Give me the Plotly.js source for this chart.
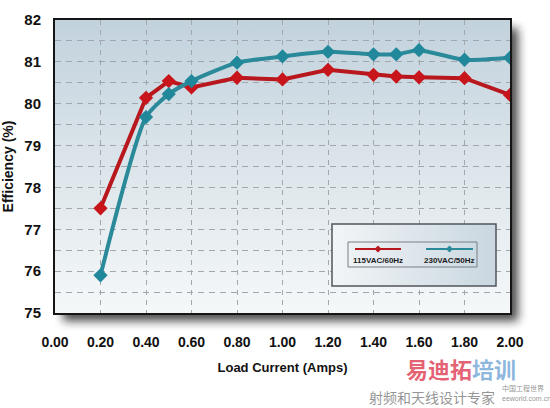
<!DOCTYPE html>
<html><head><meta charset="utf-8">
<script src="https://cdn.plot.ly/plotly-3.0.1.min.js"></script>
<style>html,body{margin:0;padding:0;background:#fff}</style>
</head><body><div id="chart" style="width:550px;height:408px"></div>
<script>
// ---- data ----
const loadCurrent = [0.2, 0.4, 0.5, 0.6, 0.8, 1.0, 1.2, 1.4, 1.5, 1.6, 1.8, 2.0];
const eff115 = [77.50, 80.14, 80.54, 80.39, 80.62, 80.58, 80.81, 80.69, 80.65, 80.63, 80.61, 80.21];
const eff230 = [75.90, 79.68, 80.23, 80.54, 80.98, 81.13, 81.24, 81.18, 81.18, 81.28, 81.05, 81.10];
const seriesNames = ['115VAC/60Hz', '230VAC/50Hz'];
const xTickVals = [0, 0.2, 0.4, 0.6, 0.8, 1.0, 1.2, 1.4, 1.6, 1.8, 2.0];
const yTickVals = [75, 76, 77, 78, 79, 80, 81, 82];

// ---- style ----
const RED = '#b8171d', RED_M = '#c8151b';
const TEAL = '#2a8a9a', TEAL_M = '#21889b';
const FONT = 'Liberation Sans, Arial, sans-serif';
const ML = 55, MT = 20, PW = 455, PH = 293;
const fx = p => (p - ML) / PW;
const fy = p => (MT + PH - p) / PH;

// background gradient + drop shadow (decoration)
const pad = 22;
const bgSvg = `<svg xmlns='http://www.w3.org/2000/svg' width='${PW+pad}' height='${PH+pad}' viewBox='0 0 ${PW+pad} ${PH+pad}' preserveAspectRatio='none'>` +
  `<defs><filter id='b' x='-20%' y='-20%' width='140%' height='140%'><feGaussianBlur stdDeviation='5'/></filter>` +
  `<linearGradient id='g' x1='0' y1='0' x2='0' y2='1'><stop offset='0' stop-color='#c2d2dd'/><stop offset='0.55' stop-color='#dfe7ec'/><stop offset='1' stop-color='#f5f8f9'/></linearGradient></defs>` +
  `<rect x='8' y='8' width='${PW}' height='${PH}' fill='#1a1a1a' opacity='0.8' filter='url(#b)'/>` +
  `<rect x='0' y='0' width='${PW}' height='${PH}' fill='url(#g)'/></svg>`;
const legSvg = `<svg xmlns='http://www.w3.org/2000/svg' width='100' height='100' viewBox='0 0 100 100' preserveAspectRatio='none'>` +
  `<defs><linearGradient id='h' x1='0' y1='0' x2='1' y2='0'><stop offset='0' stop-color='#f2f5f7'/><stop offset='1' stop-color='#c9d7e0'/></linearGradient></defs>` +
  `<rect x='0' y='0' width='100' height='100' fill='url(#h)'/></svg>`;
const uri = s => 'data:image/svg+xml;charset=utf-8,' + encodeURIComponent(s);

const traces = [
  {x: loadCurrent, y: eff115, name: seriesNames[0], type: 'scatter', mode: 'lines+markers',
   line: {color: RED, width: 4}, marker: {symbol: 'diamond', size: 11, color: RED_M}},
  {x: loadCurrent, y: eff230, name: seriesNames[1], type: 'scatter', mode: 'lines+markers',
   line: {color: TEAL, width: 4, shape: 'spline', smoothing: 0.6}, marker: {symbol: 'diamond', size: 11, color: TEAL_M}}
];

// custom legend (line above label)
const legY = 249, legTextY = 260;
const legItems = [
  {x0: 355, x1: 401, c: RED, label: seriesNames[0]},
  {x0: 426, x1: 473, c: TEAL, label: seriesNames[1]}
];
const shapes = [
  {type: 'rect', xref: 'paper', yref: 'paper', x0: fx(332), x1: fx(496), y0: fy(286), y1: fy(224),
   line: {color: '#50565c', width: 1.5}, fillcolor: 'rgba(0,0,0,0)', layer: 'above'},
  {type: 'rect', xref: 'paper', yref: 'paper', x0: fx(348), x1: fx(477), y0: fy(267), y1: fy(242),
   line: {color: '#7a7f84', width: 1}, fillcolor: 'rgba(0,0,0,0)', layer: 'above'}
];
const annotations = [];
legItems.forEach(it => {
  shapes.push({type: 'line', xref: 'paper', yref: 'paper', x0: fx(it.x0), x1: fx(it.x1), y0: fy(legY), y1: fy(legY),
    line: {color: it.c, width: 2}, layer: 'above'});
  const cx = (it.x0 + it.x1) / 2, d = 3.5;
  shapes.push({type: 'path', xref: 'paper', yref: 'paper', layer: 'above',
    path: `M ${fx(cx-d)},${fy(legY)} L ${fx(cx)},${fy(legY-d)} L ${fx(cx+d)},${fy(legY)} L ${fx(cx)},${fy(legY+d)} Z`,
    fillcolor: it.c, line: {width: 0}});
  annotations.push({xref: 'paper', yref: 'paper', x: fx(cx), y: fy(legTextY), text: it.label, showarrow: false,
    xanchor: 'center', yanchor: 'middle', font: {family: FONT, size: 8, weight: 700, color: '#1a1a1a'}});
});
// watermark
annotations.push(
  {xref: 'paper', yref: 'paper', x: fx(404), y: fy(368), xanchor: 'left', yanchor: 'middle', showarrow: false,
   text: "<span style='color:rgba(222,70,90,0.85)'>易迪拓</span><span style='color:rgba(120,170,215,0.85)'>培训</span>",
   font: {family: 'Noto Sans CJK SC', size: 22, weight: 700}},
  {xref: 'paper', yref: 'paper', x: fx(500), y: fy(388), xanchor: 'left', yanchor: 'middle', showarrow: false,
   text: '中国工程世界', font: {family: 'Noto Sans CJK SC', size: 7, color: 'rgba(120,120,120,0.8)'}},
  {xref: 'paper', yref: 'paper', x: fx(500), y: fy(398), xanchor: 'left', yanchor: 'middle', showarrow: false,
   text: 'eeworld.com.cn', font: {family: FONT, size: 7, color: 'rgba(120,120,120,0.8)'}},
  {xref: 'paper', yref: 'paper', x: fx(367), y: fy(397), xanchor: 'left', yanchor: 'middle', showarrow: false,
   text: '射频和天线设计专家', font: {family: 'Noto Sans CJK SC', size: 14, color: 'rgba(120,120,120,0.8)'}}
);

const layout = {
  width: 550, height: 408,
  margin: {l: ML, r: 550 - ML - PW, t: MT, b: 408 - MT - PH},
  paper_bgcolor: '#ffffff', plot_bgcolor: 'rgba(0,0,0,0)',
  showlegend: false,
  font: {family: FONT, size: 14, color: '#111'},
  xaxis: {range: [0, 2], tickvals: xTickVals, tickformat: '.2f', showline: true, mirror: true,
    linecolor: '#151515', linewidth: 2, ticks: '', ticklabelstandoff: 15, zeroline: false,
    showgrid: true, gridcolor: '#a0a8ae', gridwidth: 1, griddash: '5px,5px',
    tickfont: {family: FONT, size: 14, weight: 700},
    title: {text: 'Load Current (Amps)', standoff: 14, font: {family: FONT, size: 13, weight: 700}}},
  yaxis: {range: [75, 82], tickvals: yTickVals, showline: true, mirror: true,
    linecolor: '#151515', linewidth: 2, ticks: '', ticklabelstandoff: 9, zeroline: false,
    showgrid: true, gridcolor: '#a0a8ae', gridwidth: 1, griddash: '6px,5px',
    minor: {dtick: 0.5, showgrid: true, gridcolor: '#a0a8ae', gridwidth: 1, griddash: '6px,5px'},
    tickfont: {family: FONT, size: 15, weight: 700},
    title: {text: 'Efficiency (%)', standoff: 12, font: {family: FONT, size: 14, weight: 700}}},
  images: [
    {source: uri(bgSvg), xref: 'paper', yref: 'paper', x: 0, y: 1, sizex: (PW + pad) / PW, sizey: (PH + pad) / PH,
     xanchor: 'left', yanchor: 'top', sizing: 'stretch', layer: 'below'},
    {source: uri(legSvg), xref: 'paper', yref: 'paper', x: fx(332), y: fy(224), sizex: fx(496) - fx(332), sizey: fy(224) - fy(286),
     xanchor: 'left', yanchor: 'top', sizing: 'stretch', layer: 'above'}
  ],
  shapes: shapes,
  annotations: annotations
};
Plotly.newPlot('chart', traces, layout, {displayModeBar: false, staticPlot: true});
</script></body></html>
